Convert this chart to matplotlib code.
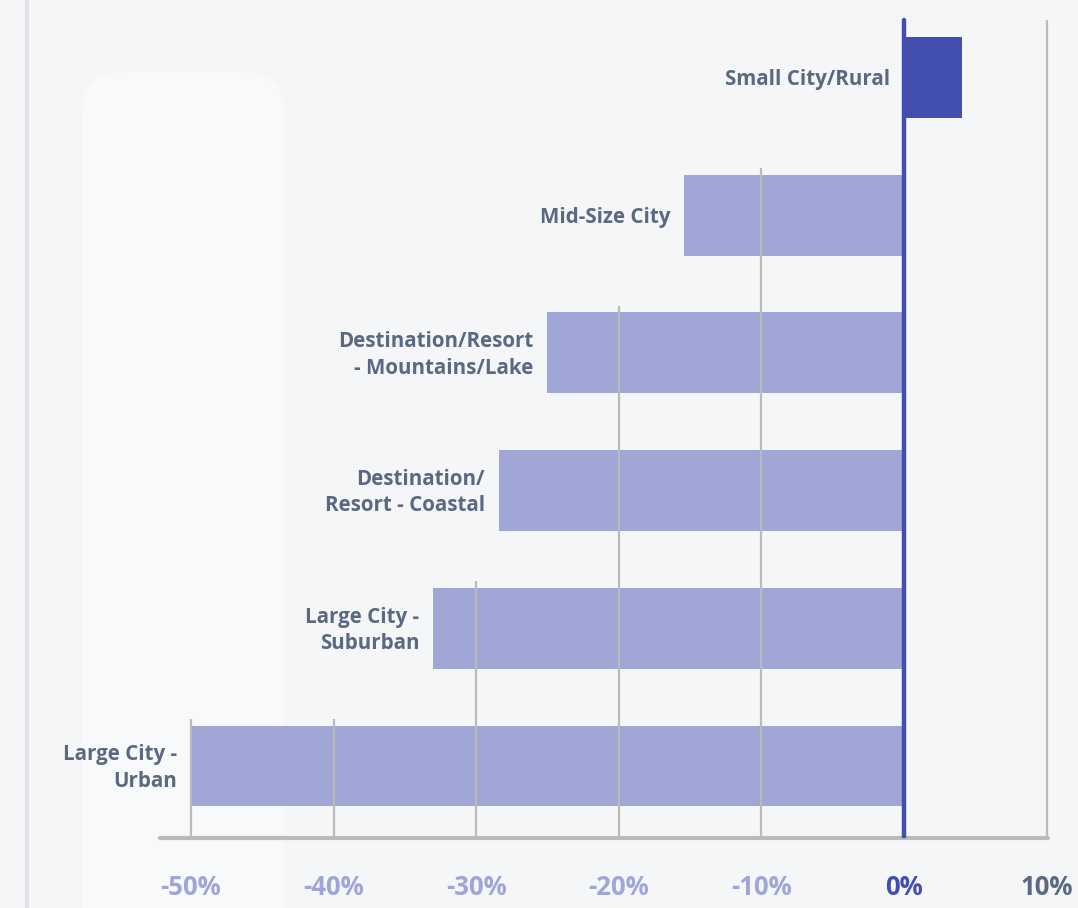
import matplotlib
matplotlib.use("Agg")
import matplotlib.pyplot as plt
from matplotlib.patches import FancyBboxPatch

# ---- data ----
categories = ["Small City/Rural", "Mid-Size City",
              "Destination/Resort\n- Mountains/Lake",
              "Destination/\nResort - Coastal",
              "Large City -\nSuburban", "Large City -\nUrban"]
values = [4.1, -15.4, -25.0, -28.4, -33.0, -50.0]
ticks = [-50, -40, -30, -20, -10, 0, 10]
tick_labels = ["-50%", "-40%", "-30%", "-20%", "-10%", "0%", "10%"]

# ---- style ----
BG = "#f5f6f8"
BAR_LIGHT = "#a0a6d6"
BAR_DARK = "#434fae"
LABEL_C = "#5a6882"
GRID_C = "#bababa"
FONT = "Open Sans"

W, H = 1078, 908
fig = plt.figure(figsize=(W / 100, H / 100), dpi=100, facecolor=BG)

# background decoration axes (pixel coords)
bg = fig.add_axes([0, 0, 1, 1], zorder=0)
bg.set_xlim(0, W)
bg.set_ylim(H, 0)
bg.axis("off")
bg.add_patch(FancyBboxPatch((82 + 40, 72 + 40), 202 - 80, 900, boxstyle="round,pad=40",
                            facecolor="#f8f9fa", edgecolor="none"))
bg.plot([27, 27], [0, H], color="#e2e3e6", lw=3, solid_capstyle="butt")

# main axes
ax = fig.add_axes([0, 70 / H, 1, 838 / H], zorder=1)
ax.patch.set_alpha(0)
ax.set_xlim(-63.39, 12.20)
ax.set_ylim(5.523, -0.563)

ypos = list(range(len(categories)))
bar_h = 0.588
colors = [BAR_DARK if v > 0 else BAR_LIGHT for v in values]
ax.barh(ypos, values, height=bar_h, color=colors, zorder=2)

# gridlines: start at the top of the highest bar that reaches each tick
for t in ticks:
    if t == 0:
        continue
    if t > 0:
        top = -0.42
    else:
        idx = [i for i, v in enumerate(values) if v <= t]
        if not idx:
            continue
        top = min(idx) - bar_h / 2 - 0.05
    ax.plot([t, t], [top, 5.523], color=GRID_C, lw=1.6, zorder=3, solid_capstyle="butt")

# zero line
ax.plot([0, 0], [-0.42, 5.523], color=BAR_DARK, lw=3.2, zorder=4, solid_capstyle="round")

# category labels
for y, v, c in zip(ypos, values, categories):
    ax.annotate(c, xy=(min(v, 0), y), xytext=(-10, -1.5), textcoords="offset points",
                ha="right", va="center", multialignment="right", fontsize=14.8,
                fontweight="bold", color=LABEL_C, family=FONT, linespacing=1.35, zorder=5)

# spines & ticks
for s in ["top", "right", "left"]:
    ax.spines[s].set_visible(False)
ax.spines["bottom"].set_color(GRID_C)
ax.spines["bottom"].set_linewidth(3)
ax.spines["bottom"].set_bounds(-52.2, 10.1)
ax.spines["bottom"].set_capstyle("round")
ax.set_yticks([])
ax.set_xticks(ticks, tick_labels)
ax.tick_params(axis="x", length=0, pad=26)
tick_colors = ["#a0a5d8"] * 5 + [BAR_DARK, LABEL_C]
for lab, col in zip(ax.get_xticklabels(), tick_colors):
    lab.set_color(col)
    lab.set_fontsize(18.5)
    lab.set_fontweight("bold")
    lab.set_family(FONT)

fig.savefig("out.png", dpi=100, facecolor=BG)
